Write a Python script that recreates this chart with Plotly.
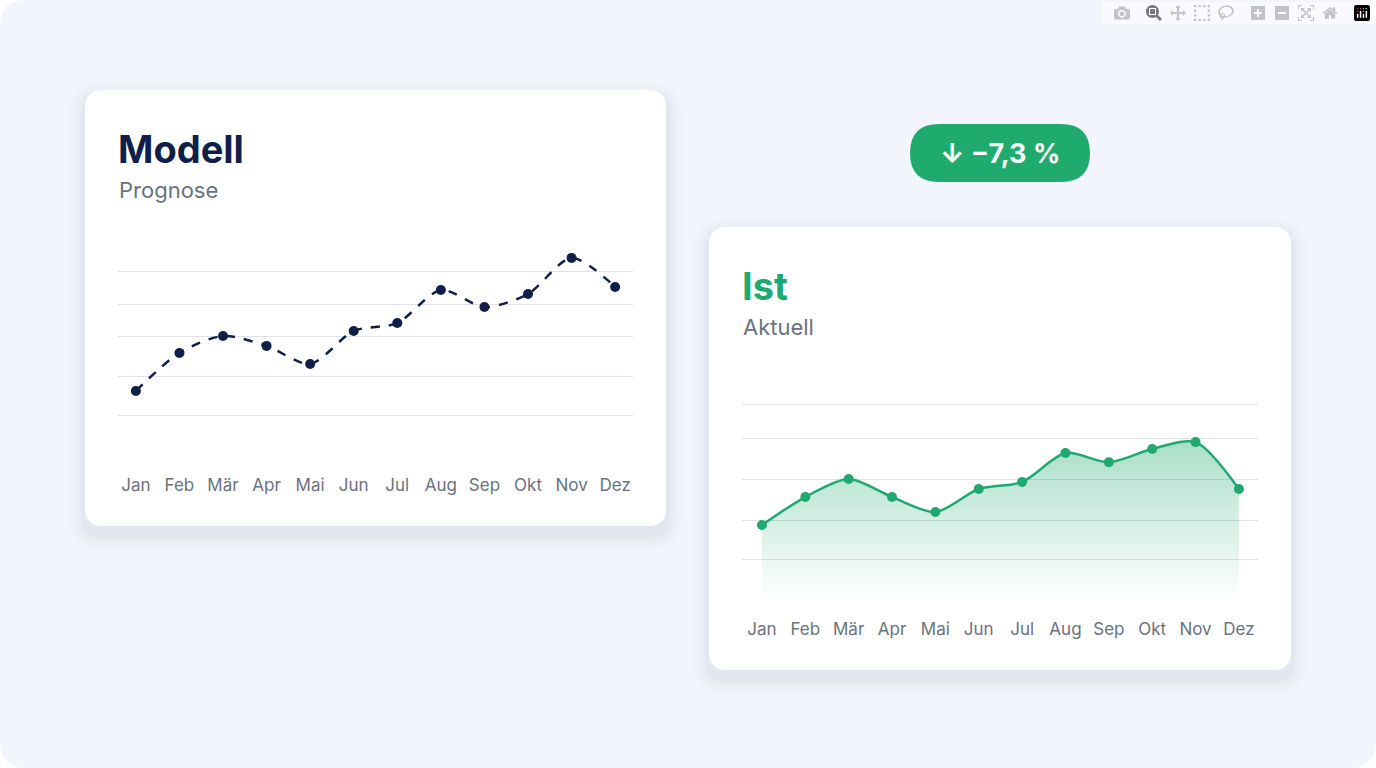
import plotly.graph_objects as go

W, H = 1376, 768

# ── Data ──────────────────────────────────────────────────────────────────────
MONTHS = ["Jan", "Feb", "Mär", "Apr", "Mai", "Jun", "Jul", "Aug", "Sep", "Okt", "Nov", "Dez"]
MODELL = [30.0, 47.3, 55.0, 50.5, 42.3, 57.3, 60.9, 75.9, 68.2, 74.1, 90.5, 77.3]
IST = [33.3, 45.6, 53.5, 45.6, 39.0, 49.1, 52.2, 64.9, 60.9, 66.7, 69.7, 49.1]
GRID_L = [0, 19, 36.8, 55, 69.5, 84.5, 100]
GRID_R = [0, 18.4, 35.5, 53.1, 71.1, 86.4, 100]
BADGE = "↓ −7,3 %"

NAVY = "#0f1f4a"
GREEN = "#1fa870"
GREY = "#6b7280"
FONT = "Inter, Roboto, sans-serif"


def px(x, y):
    return x / W, 1 - y / H


def rrect(x0, y0, x1, y1, r):
    """Rounded rectangle path in paper coords from pixel box."""
    def p(x, y):
        a, b = px(x, y)
        return f"{a:.5f},{b:.5f}"
    return (f"M{p(x0 + r, y0)} L{p(x1 - r, y0)} Q{p(x1, y0)} {p(x1, y0 + r)} "
            f"L{p(x1, y1 - r)} Q{p(x1, y1)} {p(x1 - r, y1)} L{p(x0 + r, y1)} "
            f"Q{p(x0, y1)} {p(x0, y1 - r)} L{p(x0, y0 + r)} Q{p(x0, y0)} {p(x0 + r, y0)} Z")


def card(x0, y0, x1, y1):
    out = []
    for i, a in enumerate([0.012, 0.014, 0.018, 0.022]):
        s = 16 - i * 4
        out.append(dict(type="path", xref="paper", yref="paper", layer="below",
                        path=rrect(x0 - s, y0 - s + 8, x1 + s, y1 + s + 8, 18 + s),
                        fillcolor=f"rgba(30,40,80,{a})", line_width=0))
    out.append(dict(type="path", xref="paper", yref="paper", layer="below",
                    path=rrect(x0, y0, x1, y1, 18), fillcolor="white", line_width=0))
    return out


fig = go.Figure()

fig.add_trace(go.Scatter(
    x=MONTHS, y=MODELL, mode="lines+markers", xaxis="x", yaxis="y",
    line=dict(color=NAVY, width=2.5, dash="dash", shape="spline", smoothing=0.8),
    marker=dict(color=NAVY, size=10), hoverinfo="skip"))

fig.add_trace(go.Scatter(
    x=MONTHS, y=IST, mode="lines+markers", xaxis="x2", yaxis="y2",
    fill="tozeroy",
    fillgradient=dict(type="vertical", colorscale=[[0, "rgba(31,168,112,0)"],
                                                   [1, "rgba(31,168,112,0.38)"]]),
    line=dict(color=GREEN, width=2.5, shape="spline", smoothing=0.8),
    marker=dict(color=GREEN, size=10), hoverinfo="skip"))

axis_x = dict(type="category", showgrid=False, zeroline=False, showline=False,
              ticks="outside", ticklen=12, tickcolor="rgba(0,0,0,0)",
              tickfont=dict(family=FONT, size=17, color=GREY))
axis_y = dict(showticklabels=False, zeroline=False, showline=False,
              gridcolor="#dfe2e8", gridwidth=1.3)

shapes = [dict(type="path", xref="paper", yref="paper", layer="below",
               path=rrect(0, 0, W, H, 26), fillcolor="#f2f5fb", line_width=0)]
shapes += card(85, 90, 666, 526)
shapes += card(709, 227, 1291, 670)
shapes.append(dict(type="path", xref="paper", yref="paper",
                   path=rrect(910, 124, 1090, 182, 29), fillcolor="#1fab6e", line_width=0))

def txt(x, y, s, size, color, bold=False, xanchor="left"):
    a, b = px(x, y)
    return dict(x=a, y=b, xref="paper", yref="paper", text=f"<b>{s}</b>" if bold else s,
                showarrow=False, xanchor=xanchor, yanchor="middle",
                font=dict(family=FONT, size=size, color=color))

fig.update_layout(
    width=W, height=H, margin=dict(l=0, r=0, t=0, b=0),
    paper_bgcolor="white", plot_bgcolor="rgba(0,0,0,0)", showlegend=False,
    xaxis=dict(axis_x, domain=[118 / W, 633 / W], range=[-0.41, 11.41]),
    yaxis=dict(axis_y, domain=[1 - 458 / H, 1 - 236 / H], range=[-0.45, 100.45],
               tickvals=GRID_L),
    xaxis2=dict(axis_x, domain=[742 / W, 1258 / W], range=[-0.46, 11.44], anchor="y2"),
    yaxis2=dict(axis_y, domain=[1 - 602 / H, 1 - 372 / H], range=[-0.44, 100.44],
                tickvals=GRID_R, anchor="x2"),
    shapes=shapes,
    annotations=[
        txt(116, 149, "Modell", 38, NAVY, bold=True),
        txt(117, 190, "Prognose", 22, GREY),
        txt(740, 286, "Ist", 38, GREEN, bold=True),
        txt(741, 327, "Aktuell", 22, GREY),
        txt(1000, 153, BADGE, 27, "white", bold=True, xanchor="center"),
    ],
)

fig.write_html("out.html", post_script="document.body.style.margin='0';")
